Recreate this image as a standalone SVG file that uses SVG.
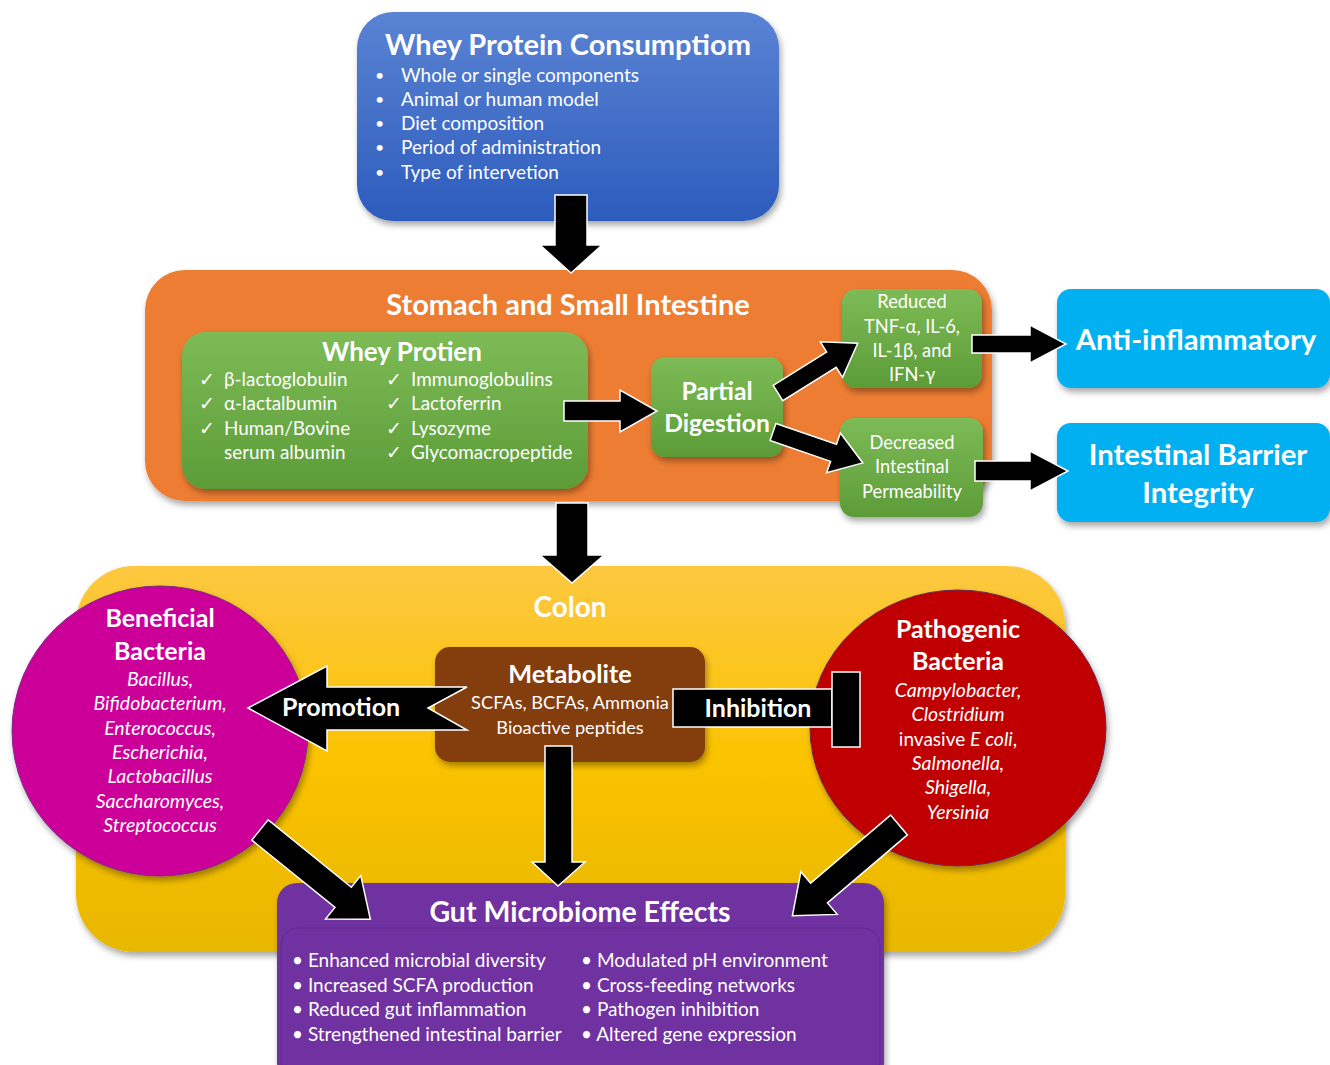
<svg xmlns="http://www.w3.org/2000/svg" width="1330" height="1065" viewBox="0 0 1330 1065">
<defs>
<linearGradient id="gBlue" x1="0" y1="0" x2="0" y2="1"><stop offset="0" stop-color="#5a83d3"/><stop offset="1" stop-color="#2d5cbd"/></linearGradient>
<linearGradient id="gGreen" x1="0" y1="0" x2="0" y2="1"><stop offset="0" stop-color="#7dbb56"/><stop offset="1" stop-color="#5c9c38"/></linearGradient>
<linearGradient id="gYellow" x1="0" y1="0" x2="0" y2="1"><stop offset="0" stop-color="#fcc840"/><stop offset="0.5" stop-color="#fbc300"/><stop offset="1" stop-color="#e8b700"/></linearGradient>
<filter id="sh" x="-10%" y="-10%" width="130%" height="130%"><feDropShadow dx="2" dy="4" stdDeviation="3" flood-color="#000" flood-opacity="0.35"/></filter>
</defs>
<style>
text{font-family:Lato,"Open Sans","Liberation Sans",sans-serif;fill:#fff}
.t{font-weight:bold}
.c{text-anchor:middle}
.i{font-style:italic}
.arr{fill:#000;stroke:#fff;stroke-width:1.5}
</style>

<g id="whey-consumption">
<rect x="357" y="12" width="422" height="209" rx="36" fill="url(#gBlue)" filter="url(#sh)"/>
<text class="t c" x="568" y="55" font-size="29">Whey Protein Consumptiom</text>
<g font-size="19">
<text x="375" y="81" font-size="16">•</text><text x="401" y="82">Whole or single components</text>
<text x="375" y="105" font-size="16">•</text><text x="401" y="106">Animal or human model</text>
<text x="375" y="129" font-size="16">•</text><text x="401" y="130">Diet composition</text>
<text x="375" y="153" font-size="16">•</text><text x="401" y="154">Period of administration</text>
<text x="375" y="178" font-size="16">•</text><text x="401" y="179">Type of intervetion</text>
</g>
</g>

<g id="stomach">
<rect x="145" y="270" width="847" height="231" rx="40" fill="#ed7d31" filter="url(#sh)"/>
<text class="t c" x="568" y="315" font-size="29">Stomach and Small Intestine</text>
</g>

<g id="whey-protien">
<rect x="182" y="332" width="406" height="157" rx="24" fill="url(#gGreen)" filter="url(#sh)"/>
<text class="t c" x="402" y="361" font-size="26">Whey Protien</text>
<g font-size="18.9">
<text x="199" y="386">✓</text><text x="224" y="386">β-lactoglobulin</text>
<text x="199" y="410">✓</text><text x="224" y="410">α-lactalbumin</text>
<text x="199" y="435">✓</text><text x="224" y="435">Human/Bovine</text>
<text x="224" y="459">serum albumin</text>
<text x="386" y="386">✓</text><text x="411" y="386">Immunoglobulins</text>
<text x="386" y="410">✓</text><text x="411" y="410">Lactoferrin</text>
<text x="386" y="435">✓</text><text x="411" y="435">Lysozyme</text>
<text x="386" y="459">✓</text><text x="411" y="459">Glycomacropeptide</text>
</g>
</g>

<g id="partial-digestion">
<rect x="651" y="357" width="132" height="100" rx="14" fill="url(#gGreen)" filter="url(#sh)"/>
<text class="t c" x="717" y="400" font-size="24.7">Partial</text>
<text class="t c" x="717" y="432" font-size="24.7">Digestion</text>
</g>

<g id="reduced">
<rect x="842" y="289" width="140" height="99" rx="14" fill="url(#gGreen)" filter="url(#sh)"/>
<g font-size="18.3">
<text class="c" x="912" y="308">Reduced</text>
<text class="c" x="912" y="333">TNF-α, IL-6,</text>
<text class="c" x="912" y="357">IL-1β, and</text>
<text class="c" x="912" y="381">IFN-γ</text>
</g>
</g>

<g id="decreased">
<rect x="840" y="418" width="143" height="99" rx="14" fill="url(#gGreen)" filter="url(#sh)"/>
<g font-size="18.3">
<text class="c" x="912" y="449">Decreased</text>
<text class="c" x="912" y="473">Intestinal</text>
<text class="c" x="912" y="498">Permeability</text>
</g>
</g>

<g id="anti-inflammatory">
<rect x="1057" y="289" width="273" height="99" rx="14" fill="#00b0f0" filter="url(#sh)"/>
<text class="t c" x="1196" y="350" font-size="29.3">Anti-inflammatory</text>
</g>

<g id="barrier">
<rect x="1057" y="423" width="273" height="99" rx="14" fill="#00b0f0" filter="url(#sh)"/>
<text class="t c" x="1198" y="465" font-size="29.3">Intestinal Barrier</text>
<text class="t c" x="1198" y="503" font-size="29.3">Integrity</text>
</g>

<g id="colon">
<rect x="76" y="566" width="989" height="386" rx="58" fill="url(#gYellow)" filter="url(#sh)"/>
<text class="t c" x="570" y="617" font-size="28">Colon</text>
</g>

<g id="gut-effects">
<rect x="277" y="883" width="607" height="200" rx="20" fill="#7030a0" filter="url(#sh)"/>
<rect x="281" y="928" width="599" height="150" rx="18" fill="none" stroke="#5e2a8c" stroke-width="1"/>
<text class="t c" x="580" y="922" font-size="28.5">Gut Microbiome Effects</text>
<g font-size="19">
<text x="292" y="967">• Enhanced microbial diversity</text>
<text x="292" y="992">• Increased SCFA production</text>
<text x="292" y="1016">• Reduced gut inflammation</text>
<text x="292" y="1041">• Strengthened intestinal barrier</text>
<text x="581" y="967">• Modulated pH environment</text>
<text x="581" y="992">• Cross-feeding networks</text>
<text x="581" y="1016">• Pathogen inhibition</text>
<text x="581" y="1041">• Altered gene expression</text>
</g>
</g>

<g id="beneficial">
<ellipse cx="160" cy="731" rx="148" ry="145" fill="#cc0099" stroke="#7a2a8a" stroke-width="1" filter="url(#sh)"/>
<text class="t c" x="160" y="627" font-size="25">Beneficial</text>
<text class="t c" x="160" y="660" font-size="25">Bacteria</text>
<g font-size="19.5">
<text class="c i" x="160" y="686">Bacillus,</text>
<text class="c i" x="160" y="710">Bifidobacterium,</text>
<text class="c i" x="160" y="735">Enterococcus,</text>
<text class="c i" x="160" y="759">Escherichia,</text>
<text class="c i" x="160" y="783">Lactobacillus</text>
<text class="c i" x="160" y="808">Saccharomyces,</text>
<text class="c i" x="160" y="832">Streptococcus</text>
</g>
</g>

<g id="metabolite">
<rect x="435" y="647" width="270" height="115" rx="15" fill="#843c0c" filter="url(#sh)"/>
<text class="t c" x="570" y="683" font-size="25.3">Metabolite</text>
<text class="c" x="570" y="709" font-size="18.2">SCFAs, BCFAs, Ammonia</text>
<text class="c" x="570" y="734" font-size="18.2">Bioactive peptides</text>
</g>

<g id="pathogenic">
<ellipse cx="958" cy="728" rx="148" ry="138" fill="#c00000" stroke="#6a2a5a" stroke-width="1" filter="url(#sh)"/>
<text class="t c" x="958" y="638" font-size="25">Pathogenic</text>
<text class="t c" x="958" y="670" font-size="25">Bacteria</text>
<g font-size="19.5">
<text class="c i" x="958" y="697">Campylobacter,</text>
<text class="c i" x="958" y="721">Clostridium</text>
<text class="c" x="958" y="746" font-size="19">invasive <tspan font-style="italic" font-size="19.5">E coli</tspan>,</text>
<text class="c i" x="958" y="770">Salmonella,</text>
<text class="c i" x="958" y="794">Shigella,</text>
<text class="c i" x="958" y="819">Yersinia</text>
</g>
</g>

<g id="connectors">
<polygon class="arr" points="555,195 587,195 587,245 602,245 571,273 540,245 555,245"/>
<polygon class="arr" points="556,503 588,503 588,555 604,555 572,583 540,555 556,555"/>
<polygon class="arr" points="564,401 620,401 620,390 657,411 620,432 620,421 564,421"/>
<polygon class="arr" transform="translate(778,393) rotate(-32)" points="0,-9 63,-9 63,-21 94,0 63,21 63,9 0,9"/>
<polygon class="arr" transform="translate(773,432) rotate(19)" points="0,-9 64,-9 64,-21 95,0 64,21 64,9 0,9"/>
<polygon class="arr" points="972,335 1030,335 1030,325 1066,344 1030,363 1030,353 972,353"/>
<polygon class="arr" points="975,461 1030,461 1030,451 1068,471 1030,491 1030,481 975,481"/>
<polygon class="arr" points="545,746 572,746 572,862 585,862 558,886 532,862 545,862"/>
<polygon class="arr" transform="translate(260,830) rotate(39)" points="0,-13 107,-13 107,-28 142,0 107,28 107,13 0,13"/>
<polygon class="arr" transform="translate(899,825) rotate(139.6)" points="0,-13 105,-13 105,-28 140,0 105,28 105,13 0,13"/>
<polygon class="arr" points="248,708 327,666 327,687 467,687 428,708 467,730 327,730 327,751"/>
<text class="t c" x="341" y="716" font-size="25">Promotion</text>
<rect class="arr" x="673" y="689" width="159" height="38"/>
<rect class="arr" x="832" y="672" width="28" height="75"/>
<text class="t c" x="758" y="717" font-size="25">Inhibition</text>
</g>
</svg>
